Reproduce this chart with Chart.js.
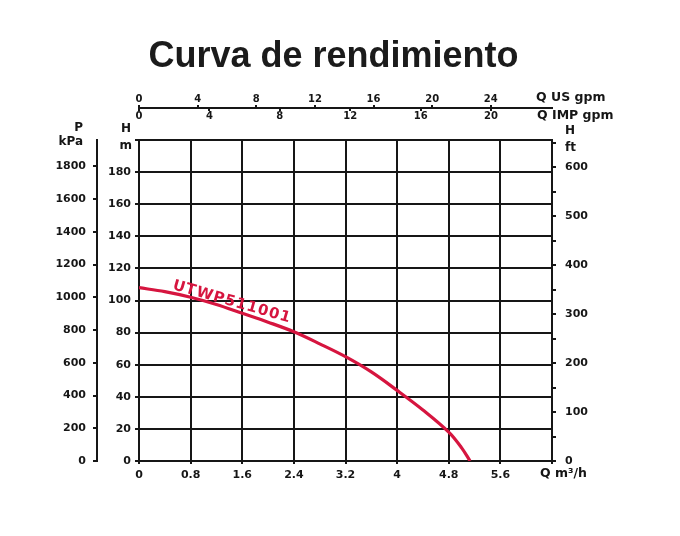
<!DOCTYPE html>
<html><head><meta charset="utf-8">
<script src="https://cdn.jsdelivr.net/npm/chart.js@4.4.1/dist/chart.umd.min.js"></script>
<style>html,body{margin:0;padding:0;background:#fff;} #wrap{width:680px;height:536px;position:relative;}</style>
</head><body><div id="wrap"><canvas id="c"></canvas></div>
<script>
// ---- data ----
const flowM3h = [0, 0.4, 0.8, 1.2, 1.6, 2.0, 2.4, 2.8, 3.2, 3.6, 4.0, 4.4, 4.8, 5.0, 5.13];
const headM   = [108, 105.5, 102, 97.5, 92, 86.5, 80.5, 73, 65, 55.5, 44, 31.8, 18, 8.2, 0];
const qTicks      = [0, 0.8, 1.6, 2.4, 3.2, 4, 4.8, 5.6, 6.4];
const hTicks      = [0, 20, 40, 60, 80, 100, 120, 140, 160, 180, 200];
const pTicks      = [0, 200, 400, 600, 800, 1000, 1200, 1400, 1600, 1800];
const ftTicks     = [0, 50, 100, 150, 200, 250, 300, 350, 400, 450, 500, 550, 600, 650];
const usGpmTicks  = [0, 4, 8, 12, 16, 20, 24];
const impGpmTicks = [0, 4, 8, 12, 16, 20];
const modelName = 'UTWP511001';
const titleText = 'Curva de rendimiento';

// unit conversions
const Q_MAX = 6.4, H_MAX = 200;
const M3H_TO_USGPM = 4.40287, M3H_TO_IMPGPM = 3.66615, M_TO_KPA = 9.80665, M_TO_FT = 3.28084;

const INK = '#161616', RED = '#d6153f';
const tickFont = {family: 'DejaVu Sans', size: 11, weight: 'bold'};
const smallFont = {family: 'DejaVu Sans', size: 10, weight: 'bold'};
const setTicks = arr => scale => { scale.ticks = arr.map(v => ({value: v})); };
const gridCommon = {color: INK, lineWidth: 2, tickColor: INK, tickWidth: 2};

const textPlugin = {
  id: 'axisText',
  afterDatasetsDraw(chart) {
    const ctx = chart.ctx, s = chart.scales;
    // curve label along the curve
    const px = s.x.getPixelForValue(0.51), py = s.y.getPixelForValue(107.2);
    ctx.save();
    ctx.translate(px, py);
    ctx.rotate(16 * Math.PI / 180);
    ctx.font = 'bold 15px "DejaVu Sans"';
    try { ctx.letterSpacing = '1px'; } catch (e) {}
    ctx.fillStyle = RED;
    ctx.textBaseline = 'alphabetic';
    ctx.textAlign = 'left';
    ctx.fillText(modelName, 0, 0);
    ctx.restore();
  },
  afterDraw(chart) {
    const ctx = chart.ctx, s = chart.scales, a = chart.chartArea;
    ctx.save();
    ctx.fillStyle = INK;
    ctx.strokeStyle = INK;
    // IMP gpm tick marks below the shared top line
    ctx.lineWidth = 2;
    const lineY = s.xUS.bottom;
    s.xImp.ticks.forEach(t => {
      const x = Math.round(s.xImp.getPixelForValue(t.value));
      ctx.beginPath(); ctx.moveTo(x, lineY); ctx.lineTo(x, lineY + 3); ctx.stroke();
    });
    ctx.textBaseline = 'middle';
    ctx.font = 'bold 12.5px "DejaVu Sans"';
    ctx.textAlign = 'left';
    ctx.fillText('Q US gpm', a.right - 16, lineY - 10);
    ctx.fillText('Q IMP gpm', a.right - 15, lineY + 8);
    ctx.fillText('Q m\u00B3/h', a.right - 12, s.x.top + 13);
    ctx.font = 'bold 12px "DejaVu Sans"';
    ctx.fillText('H', s.yft.left + 13, a.top - 9);
    ctx.fillText('ft', s.yft.left + 13, a.top + 8);
    ctx.textAlign = 'right';
    ctx.fillText('H', s.y.right - 8, a.top - 11);
    ctx.fillText('m', s.y.right - 7, a.top + 6);
    ctx.fillText('P', s.yP.right - 14, a.top - 12);
    ctx.fillText('kPa', s.yP.right - 14, a.top + 2);
    ctx.restore();
  }
};

new Chart(document.getElementById('c'), {
  type: 'line',
  data: {
    datasets: [{
      data: flowM3h.map((q, i) => ({x: q, y: headM[i]})),
      xAxisID: 'x', yAxisID: 'y',
      borderColor: RED, borderWidth: 3.2, pointRadius: 0,
      tension: 0.35, fill: false
    }]
  },
  options: {
    responsive: true, maintainAspectRatio: false, animation: false,
    layout: {padding: {left: 0, right: 13, top: 0, bottom: 0}},
    plugins: {
      legend: {display: false}, tooltip: {enabled: false},
      title: {display: true, text: titleText, color: '#1b1b1b',
        font: {family: 'Liberation Sans', size: 36, weight: 'bold'},
        padding: {top: 35, bottom: 5}}
    },
    scales: {
      x: {type: 'linear', position: 'bottom', min: 0, max: Q_MAX,
        afterBuildTicks: setTicks(qTicks),
        ticks: {callback: v => v >= Q_MAX ? '' : String(v), font: tickFont, color: INK, padding: 5, autoSkip: false, maxRotation: 0},
        grid: Object.assign({tickLength: 3}, gridCommon),
        border: {color: INK, width: 2},
        afterFit: s => { s.height = 75; }},
      xUS: {type: 'linear', position: 'top', weight: 1, min: 0, max: Q_MAX * M3H_TO_USGPM,
        afterBuildTicks: setTicks(usGpmTicks),
        ticks: {callback: v => String(v), font: smallFont, color: INK, padding: 0, autoSkip: false, maxRotation: 0},
        grid: Object.assign({tickLength: 3, drawOnChartArea: false}, gridCommon),
        border: {color: INK, width: 2},
        afterFit: s => { s.height = 24.8; }},
      xImp: {type: 'linear', position: 'top', weight: 0, min: 0, max: Q_MAX * M3H_TO_IMPGPM,
        afterBuildTicks: setTicks(impGpmTicks),
        ticks: {callback: v => String(v), font: smallFont, color: INK, padding: 18, autoSkip: false, maxRotation: 0},
        grid: {display: false, drawTicks: false, drawOnChartArea: false},
        border: {display: false},
        afterFit: s => { s.height = 32; }},
      y: {type: 'linear', position: 'left', weight: 0, min: 0, max: H_MAX,
        afterBuildTicks: setTicks(hTicks),
        ticks: {callback: v => v >= H_MAX ? '' : String(v), font: tickFont, color: INK, padding: 4, autoSkip: false},
        grid: Object.assign({tickLength: 4}, gridCommon),
        border: {color: INK, width: 2},
        afterFit: s => { s.width = 42; }},
      yP: {type: 'linear', position: 'left', weight: 1, min: 0, max: H_MAX * M_TO_KPA,
        afterBuildTicks: setTicks(pTicks),
        ticks: {callback: v => String(v), font: tickFont, color: INK, padding: 7, autoSkip: false},
        grid: Object.assign({tickLength: 4, drawOnChartArea: false}, gridCommon),
        border: {color: INK, width: 2},
        afterFit: s => { s.width = 97; }},
      yft: {type: 'linear', position: 'right', min: 0, max: H_MAX * M_TO_FT,
        afterBuildTicks: setTicks(ftTicks),
        ticks: {callback: v => v % 100 === 0 ? String(v) : '', font: tickFont, color: INK, padding: 9, autoSkip: false},
        grid: Object.assign({tickLength: 4, drawOnChartArea: false}, gridCommon),
        border: {color: INK, width: 2},
        afterFit: s => { s.width = 115; }}
    }
  },
  plugins: [textPlugin]
});
</script>
</body></html>
